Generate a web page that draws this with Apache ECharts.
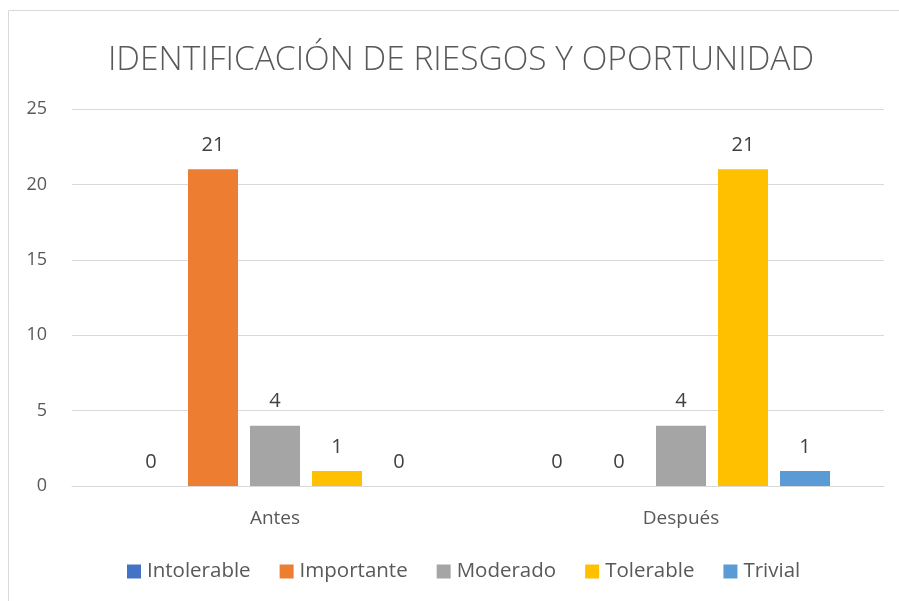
<!DOCTYPE html>
<html>
<head>
<meta charset="utf-8">
<script src="https://cdn.jsdelivr.net/npm/echarts@6/dist/echarts.min.js"></script>
<style>html,body{margin:0;padding:0;background:#fff}#c{width:899px;height:601px}</style>
</head>
<body>
<div id="c"></div>
<script>
var categories = ['Antes', 'Después'];
var seriesNames = ['Intolerable', 'Importante', 'Moderado', 'Tolerable', 'Trivial'];
var intolerable = [0, 0];
var importante = [21, 0];
var moderado = [4, 4];
var tolerable = [1, 21];
var trivial = [0, 1];
var yTicks = [0, 5, 10, 15, 20, 25];

var colors = ['#4472C4', '#ED7D31', '#A5A5A5', '#FFC000', '#5B9BD5'];
var values = [intolerable, importante, moderado, tolerable, trivial];
var FONT = 'Open Sans';
var TXT = '#595959';

var chart = echarts.init(document.getElementById('c'), null, {renderer: 'canvas'});
chart.setOption({
  animation: false,
  backgroundColor: '#fff',
  color: colors,
  textStyle: {fontFamily: FONT},
  title: {
    text: 'IDENTIFICACIÓN DE RIESGOS Y OPORTUNIDAD',
    left: 456, top: 38, textAlign: 'center',
    textStyle: {fontFamily: FONT, fontWeight: 300, fontSize: 33.5, color: TXT}
  },
  graphic: [{
    type: 'polyline', silent: true,
    shape: {points: [[8.5, 601], [8.5, 10.5], [899, 10.5]]},
    style: {stroke: '#d9d9d9', fill: null, lineWidth: 1}
  }],
  legend: {
    bottom: 14, left: 122,
    itemWidth: 14, itemHeight: 14, itemGap: 29,
    icon: 'rect',
    textStyle: {fontFamily: FONT, fontSize: 20.5, color: TXT, padding: [0, 0, 0, 1]},
    data: seriesNames
  },
  grid: {left: 72, right: 15, top: 109, bottom: 115, containLabel: false},
  xAxis: {
    type: 'category', data: categories,
    axisLine: {lineStyle: {color: '#d9d9d9', width: 1}},
    axisTick: {show: false},
    axisLabel: {fontFamily: FONT, fontSize: 19, color: TXT, margin: 23}
  },
  yAxis: {
    type: 'value', min: yTicks[0], max: yTicks[yTicks.length - 1], interval: 5,
    axisLine: {show: false}, axisTick: {show: false},
    splitLine: {lineStyle: {color: '#d9d9d9', width: 1}},
    axisLabel: {fontFamily: FONT, fontSize: 18, color: TXT, margin: 25}
  },
  series: seriesNames.map(function (n, i) {
    return {
      name: n, type: 'bar', data: values[i],
      barWidth: 50, barGap: '24%',
      itemStyle: {color: colors[i]},
      label: {show: true, position: 'top', distance: 14, fontFamily: FONT, fontSize: 20, color: '#404040'}
    };
  })
});
</script>
</body>
</html>
